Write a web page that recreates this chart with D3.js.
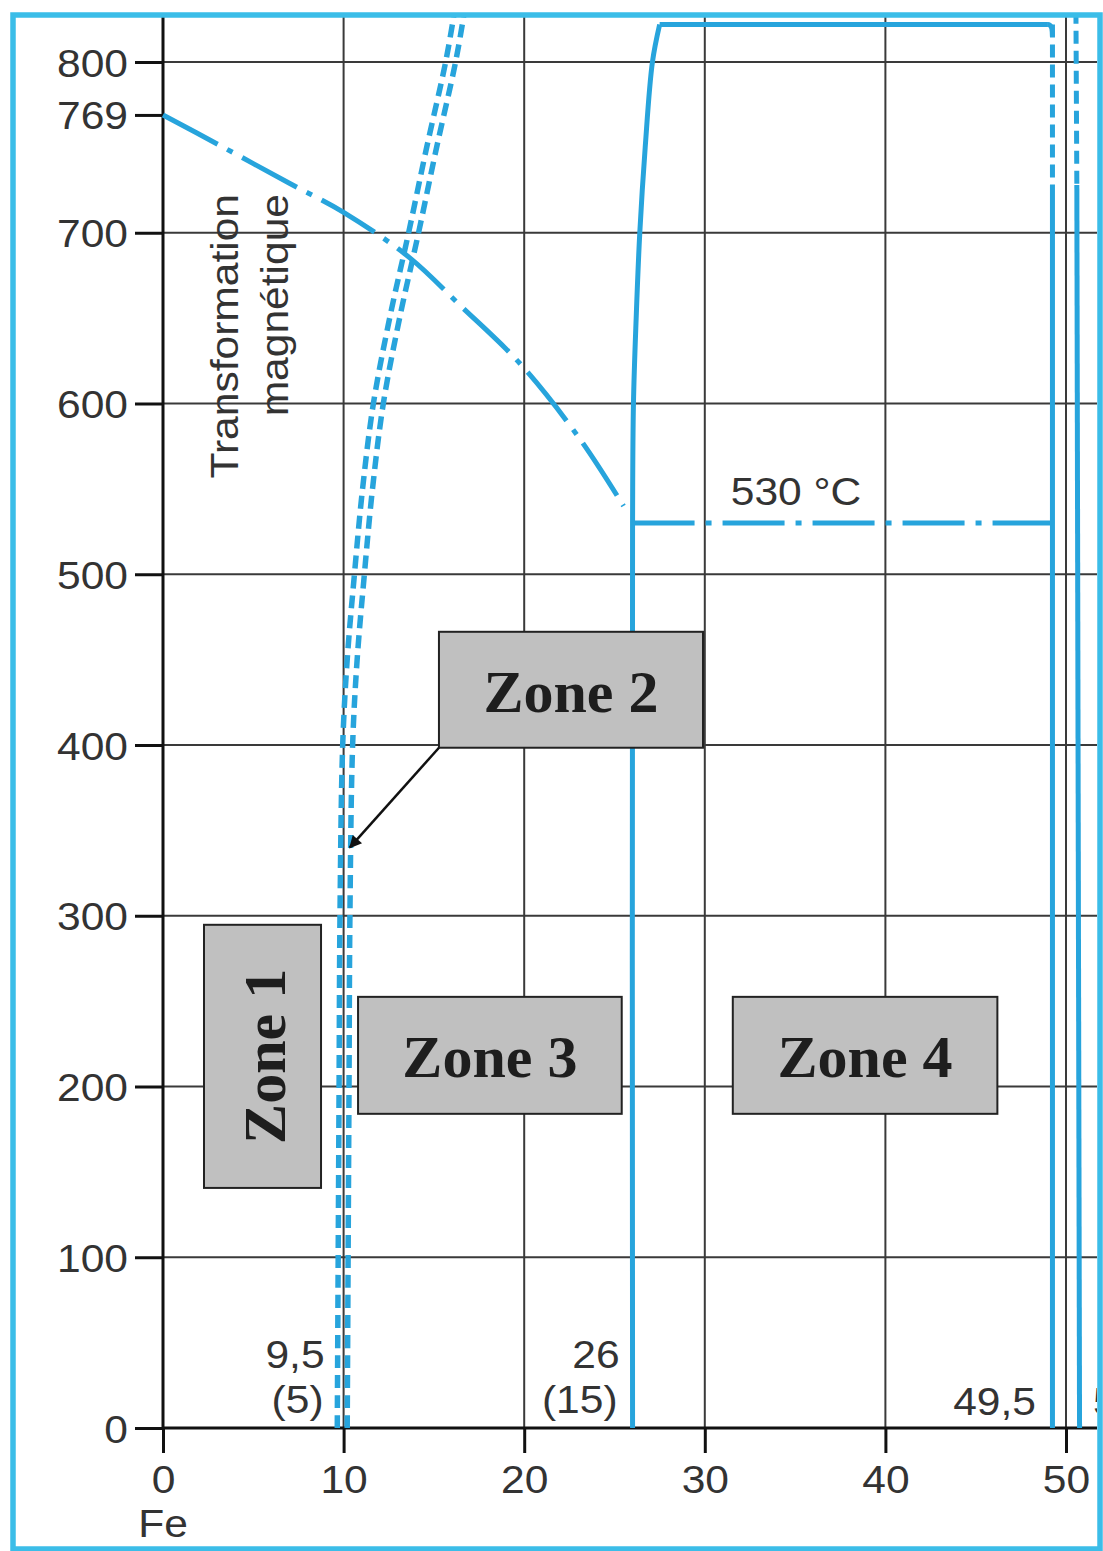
<!DOCTYPE html>
<html><head><meta charset="utf-8">
<script src="https://cdn.jsdelivr.net/npm/d3@7"></script>
<style>body{margin:0;background:#fff}svg{display:block}</style>
</head><body>
<script>
// ---------- data ----------
const xTicks = [0, 10, 20, 30, 40, 50];
const yTicks = [0, 100, 200, 300, 400, 500, 600, 700, 769, 800];
const yGrid = [100, 200, 300, 400, 500, 600, 700, 800];
const xGrid = [10, 20, 30, 40, 50];

// magnetic transformation (dash-dot)
const magX = [0, 3, 7, 10, 13.7, 16.4, 19.8, 23.1, 25.5];
const magT = [769, 752, 729, 712, 685, 658, 623, 579, 540];
const curieX = [26, 49.25];
const curieT = [530, 530];

// solvus double dashed lines
const solvT      = [0, 100, 200, 300, 400, 450, 500, 550, 600, 650, 700, 750, 800, 830];
const solvLeftX  = [9.65, 9.7, 9.75, 9.8, 9.95, 10.2, 10.6, 11.05, 11.65, 12.55, 13.6, 14.6, 15.65, 16.15];
const solvRightX = [10.2, 10.25, 10.3, 10.35, 10.5, 10.75, 11.15, 11.6, 12.2, 13.1, 14.15, 15.15, 16.2, 16.7];

// boundary at 26 % then top plateau
const sigT = [0, 530, 600, 650, 700, 750, 800, 822];
const sigX = [26, 26, 26.05, 26.2, 26.4, 26.7, 27.1, 27.5];
const topX = [27.5, 49.0];
const topT = [822, 822];

// right boundaries (dashed above ~728, solid below)
const rightA_X = [49.25, 49.25, 49.25];
const rightA_T = [822, 728, 0];
const rightB_X = [50.55, 50.6, 50.75];
const rightB_T = [830, 728, 0];

// zone boxes (in data units)
const zoneNames = ["Zone 1", "Zone 2", "Zone 3", "Zone 4"];
const zoneX0 = [2.27, 15.28, 10.8, 31.55];
const zoneX1 = [8.75, 29.9, 25.4, 46.2];
const zoneT0 = [140.6, 398.4, 184, 184];
const zoneT1 = [294.7, 466.3, 252.5, 252.5];
const zoneRotated = [true, false, false, false];
const arrowTarget = [10.35, 340];

// ---------- drawing ----------
const W = 1103, H = 1551;
const blue = "#27a4dc", border = "#3bbde8", ink = "#333";
const sans = "'Liberation Sans', Arial, Helvetica, sans-serif";
const SX = 1.12;

const svg = d3.select("body").append("svg").attr("width", W).attr("height", H);
const x = d3.scaleLinear().domain([0, 50]).range([163, 1066]);
const y = d3.scaleLinear().domain([0, 800]).range([1428, 62]);

const defs = svg.append("defs");
defs.append("clipPath").attr("id", "clip").append("rect")
  .attr("x", 16).attr("y", 17).attr("width", 1081).attr("height", 1529);
defs.append("marker").attr("id", "arr").attr("viewBox", "0 0 10 10")
  .attr("refX", 9).attr("refY", 5).attr("markerWidth", 6).attr("markerHeight", 5)
  .attr("markerUnits", "strokeWidth").attr("orient", "auto")
  .append("path").attr("d", "M0,0L10,5L0,10Z").attr("fill", "#111");

const g = svg.append("g").attr("clip-path", "url(#clip)");

// grid
g.append("g").selectAll("line").data(yGrid).join("line")
  .attr("x1", x(0)).attr("x2", 1100).attr("y1", d => y(d)).attr("y2", d => y(d))
  .attr("stroke", "#3a3a3a").attr("stroke-width", 2);
g.append("g").selectAll("line").data(xGrid).join("line")
  .attr("y1", y(0)).attr("y2", 0).attr("x1", d => x(d)).attr("x2", d => x(d))
  .attr("stroke", "#3a3a3a").attr("stroke-width", 2);

// axes lines (extended to frame)
g.append("line").attr("x1", x(0)).attr("x2", 1100).attr("y1", y(0)).attr("y2", y(0))
  .attr("stroke", "#111").attr("stroke-width", 3);
g.append("line").attr("x1", x(0)).attr("x2", x(0)).attr("y1", y(0)).attr("y2", 0)
  .attr("stroke", "#111").attr("stroke-width", 3);

// axes with d3 axis generators
const yAxis = g.append("g").attr("transform", `translate(${x(0)},0)`)
  .call(d3.axisLeft(y).tickValues(yTicks).tickSize(28).tickSizeOuter(0).tickFormat(d3.format("d")));
yAxis.select(".domain").remove();
yAxis.selectAll(".tick line").attr("stroke", "#111").attr("stroke-width", 3);
yAxis.selectAll(".tick text").attr("x", null).attr("dy", null)
  .attr("transform", `translate(-35,14) scale(${SX},1)`)
  .attr("text-anchor", "end").attr("font-family", sans).attr("font-size", 38).attr("fill", ink);

const xAxis = g.append("g").attr("transform", `translate(0,${y(0)})`)
  .call(d3.axisBottom(x).tickValues(xTicks).tickSize(25).tickSizeOuter(0).tickFormat(d3.format("d")));
xAxis.select(".domain").remove();
xAxis.selectAll(".tick line").attr("stroke", "#111").attr("stroke-width", 3);
xAxis.selectAll(".tick text").attr("y", null).attr("dy", null)
  .attr("transform", `translate(0,65) scale(${SX},1)`)
  .attr("text-anchor", "middle").attr("font-family", sans).attr("font-size", 38).attr("fill", ink);

function label(px, py, txt, anchor, rot) {
  g.append("text").attr("transform", `translate(${px},${py})${rot ? " rotate(-90)" : ""} scale(${SX},1)`)
    .attr("text-anchor", anchor).attr("font-family", sans).attr("font-size", 38).attr("fill", ink).text(txt);
}
label(x(0), 1537, "Fe", "middle");

// curves
const line = d3.line().x(d => x(d[0])).y(d => y(d[1]));
const smooth = d3.line().x(d => x(d[0])).y(d => y(d[1])).curve(d3.curveCatmullRom.alpha(0.5));
const zip = (a, b) => a.map((v, i) => [v, b[i]]);

g.append("path").attr("d", smooth(zip(magX, magT))).attr("fill", "none")
  .attr("stroke", blue).attr("stroke-width", 5).attr("stroke-dasharray", "62 11 6 11");
g.append("path").attr("d", line(zip(curieX, curieT))).attr("fill", "none")
  .attr("stroke", blue).attr("stroke-width", 5).attr("stroke-dasharray", "62 11 6 11");

[solvLeftX, solvRightX].forEach(arr => {
  g.append("path").attr("d", smooth(zip(arr, solvT))).attr("fill", "none")
    .attr("stroke", blue).attr("stroke-width", 5.5).attr("stroke-dasharray", "13 7");
});

g.append("path").attr("d", smooth(zip(sigX, sigT))).attr("fill", "none")
  .attr("stroke", blue).attr("stroke-width", 5);
g.append("path").attr("d", line(zip(topX, topT)) ).attr("fill", "none")
  .attr("stroke", blue).attr("stroke-width", 5);

[[rightA_X, rightA_T], [rightB_X, rightB_T]].forEach(([xs, ts]) => {
  g.append("path").attr("d", line([[xs[0], ts[0]], [xs[1], ts[1]]])).attr("fill", "none")
    .attr("stroke", blue).attr("stroke-width", 5).attr("stroke-dasharray", "13 7");
  g.append("path").attr("d", line([[xs[1], ts[1]], [xs[2], ts[2]]])).attr("fill", "none")
    .attr("stroke", blue).attr("stroke-width", 5);
});
// rounded corner top right
g.append("path").attr("d", `M${x(49.0)},${y(822)} Q${x(49.25)},${y(822)} ${x(49.25)},${y(815)}`)
  .attr("fill", "none").attr("stroke", blue).attr("stroke-width", 5);

// annotations
label(x(0) + 75, 194, "Transformation", "end", true);
label(x(0) + 125, 194, "magnétique", "end", true);
label(796, 505, "530 °C", "middle");
label(x(9.5) - 10, 1368, "9,5", "end");
label(x(9.5) - 11, 1413, "(5)", "end");
label(x(26) - 13, 1368, "26", "end");
label(x(26) - 15, 1413, "(15)", "end");
label(x(49.5) - 21, 1415, "49,5", "end");
label(1093, 1415, "50,5", "start");

// zone boxes
zoneNames.forEach((nm, i) => {
  const bx = x(zoneX0[i]), bw = x(zoneX1[i]) - x(zoneX0[i]);
  const by = y(zoneT1[i]), bh = y(zoneT0[i]) - y(zoneT1[i]);
  g.append("rect").attr("x", bx).attr("y", by).attr("width", bw).attr("height", bh)
    .attr("fill", "#c0c0c0").attr("stroke", "#222").attr("stroke-width", 2);
  const cx = bx + bw / 2, cy = by + bh / 2;
  const t = g.append("text").attr("text-anchor", "middle")
    .attr("font-family", "'Liberation Serif', 'Times New Roman', serif").attr("font-weight", "bold")
    .attr("font-size", 60).attr("fill", "#1e1e1e").text(nm);
  if (zoneRotated[i]) t.attr("transform", `translate(${cx + 22},${cy}) rotate(-90)`);
  else t.attr("x", cx).attr("y", cy + 22);
});

// arrow from Zone 2 box corner
g.append("line").attr("x1", x(zoneX0[1])).attr("y1", y(zoneT0[1]))
  .attr("x2", x(arrowTarget[0])).attr("y2", y(arrowTarget[1]))
  .attr("stroke", "#111").attr("stroke-width", 2.5).attr("marker-end", "url(#arr)");

// frame
svg.append("rect").attr("x", 13).attr("y", 15).attr("width", 1087).attr("height", 1534)
  .attr("fill", "none").attr("stroke", border).attr("stroke-width", 5.5);
</script>
</body></html>
